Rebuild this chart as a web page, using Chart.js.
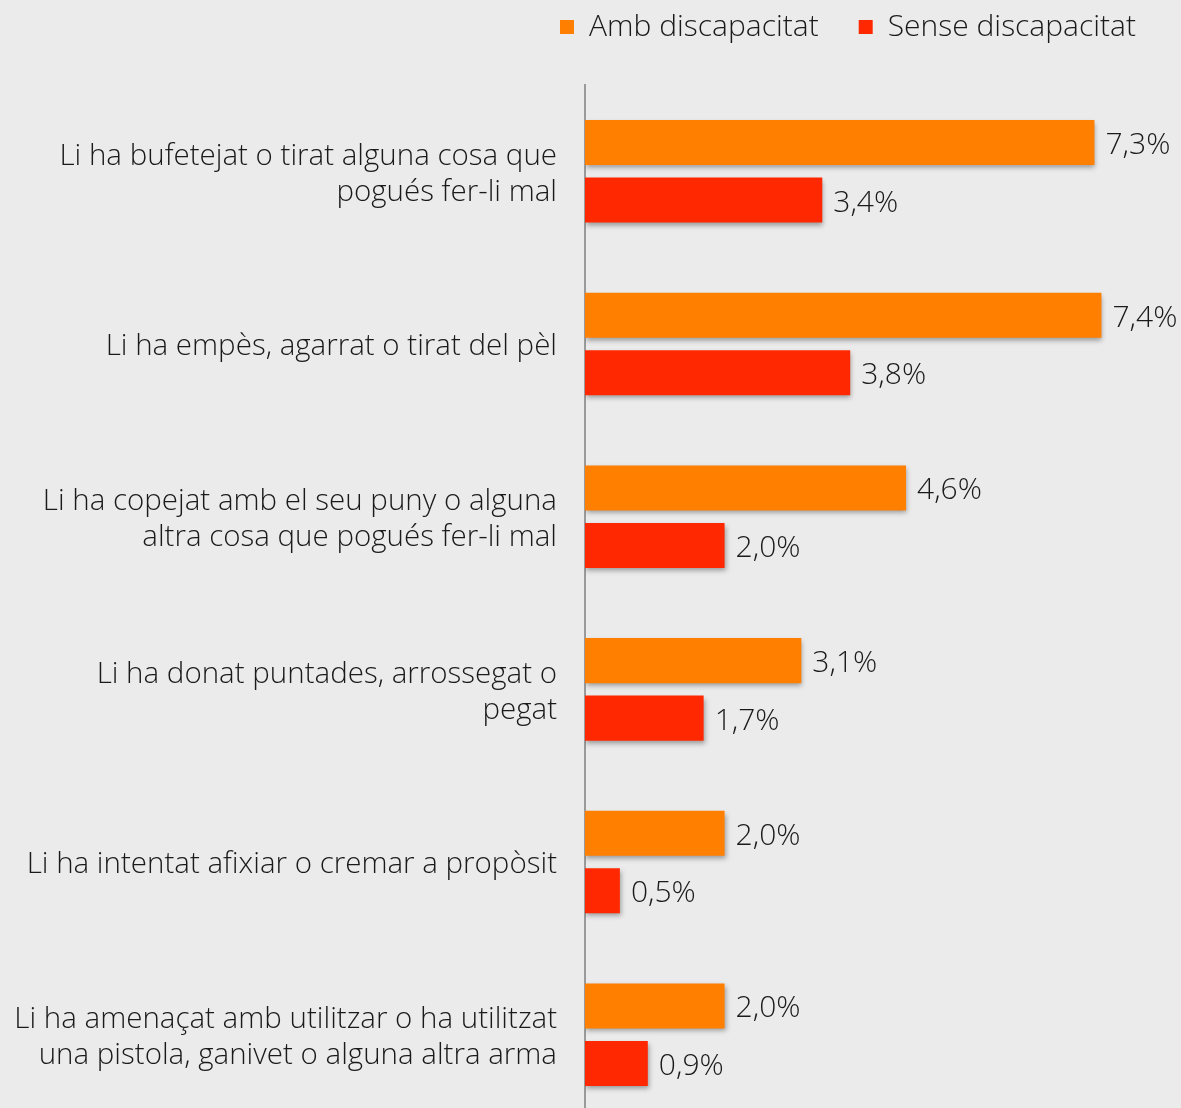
<!DOCTYPE html>
<html>
<head>
<meta charset="utf-8">
<script src="https://cdn.jsdelivr.net/npm/chart.js@4/dist/chart.umd.min.js"></script>
<style>
html,body{margin:0;padding:0;background:#ebebeb;overflow:hidden;}
#wrap{width:1181px;height:1185px;}
</style>
</head>
<body>
<div id="wrap"><canvas id="c" width="1181" height="1185"></canvas></div>
<script>
const categories = [
  ["Li ha bufetejat o tirat alguna cosa que", "pogués fer-li mal"],
  "Li ha empès, agarrat o tirat del pèl",
  ["Li ha copejat amb el seu puny o alguna", "altra cosa que pogués fer-li mal"],
  ["Li ha donat puntades, arrossegat o", "pegat"],
  "Li ha intentat afixiar o cremar a propòsit",
  ["Li ha amenaçat amb utilitzar o ha utilitzat", "una pistola, ganivet o alguna altra arma"]
];
const seriesNames = ["Amb discapacitat", "Sense discapacitat"];
const ambValues = [7.3, 7.4, 4.6, 3.1, 2.0, 2.0];
const senseValues = [3.4, 3.8, 2.0, 1.7, 0.5, 0.9];

const FONT = "'Open Sans', 'Liberation Sans', Arial, sans-serif";
const TEXT = '#1a1a1a';

const shadowPlugin = {
  id: 'barShadow',
  beforeDatasetsDraw(chart) {
    const ctx = chart.ctx;
    ctx.save();
    ctx.shadowColor = 'rgba(0,0,0,0.35)';
    ctx.shadowBlur = 5;
    ctx.shadowOffsetX = 1;
    ctx.shadowOffsetY = 3;
  },
  afterDatasetsDraw(chart) {
    chart.ctx.restore();
  }
};

const valueLabels = {
  id: 'valueLabels',
  afterDatasetsDraw(chart) {
    const ctx = chart.ctx;
    ctx.save();
    ctx.font = '300 30px ' + FONT;
    ctx.fillStyle = TEXT;
    ctx.textAlign = 'left';
    ctx.textBaseline = 'middle';
    chart.data.datasets.forEach((ds, i) => {
      chart.getDatasetMeta(i).data.forEach((bar, j) => {
        const txt = ds.data[j].toFixed(1).replace('.', ',') + '%';
        ctx.fillText(txt, bar.x + 11, bar.y + 3);
      });
    });
    ctx.restore();
  }
};

const legendPlace = {
  id: 'legendPlace',
  beforeInit(chart) {
    const orig = chart.legend.fit;
    chart.legend.fit = function() {
      orig.call(this);
      this.height = 85;
    };
  },
  afterLayout(chart) {
    const lg = chart.legend;
    lg.top -= 28;
    lg.bottom -= 28;
    lg.right -= 5;
    lg.left -= 5;
  }
};

new Chart(document.getElementById('c'), {
  type: 'bar',
  data: {
    labels: categories,
    datasets: [
      { label: seriesNames[0], data: ambValues, backgroundColor: '#ff7f00' },
      { label: seriesNames[1], data: senseValues, backgroundColor: '#ff2800' }
    ]
  },
  options: {
    indexAxis: 'y',
    responsive: false,
    animation: false,
    maintainAspectRatio: false,
    categoryPercentage: 0.666,
    barPercentage: 0.784,
    layout: { padding: { left: 0, right: 0, top: 0, bottom: 0 } },
    plugins: {
      legend: {
        position: 'top',
        align: 'end',
        labels: {
          boxWidth: 14,
          boxHeight: 14,
          padding: 40,
          color: TEXT,
          font: { size: 30, family: FONT, weight: '300' }
        }
      },
      tooltip: { enabled: false }
    },
    scales: {
      x: {
        display: false,
        min: 0,
        max: 8.54
      },
      y: {
        grid: { display: false, drawTicks: false },
        border: { display: true, color: '#9a9a9a', width: 2 },
        ticks: {
          color: TEXT,
          padding: 28,
          labelOffset: 3,
          font: { size: 29.5, family: FONT, weight: '300', lineHeight: 1.22 }
        },
        afterFit(scale) { scale.width = 585; }
      }
    }
  },
  plugins: [shadowPlugin, valueLabels, legendPlace]
});
</script>
</body>
</html>
